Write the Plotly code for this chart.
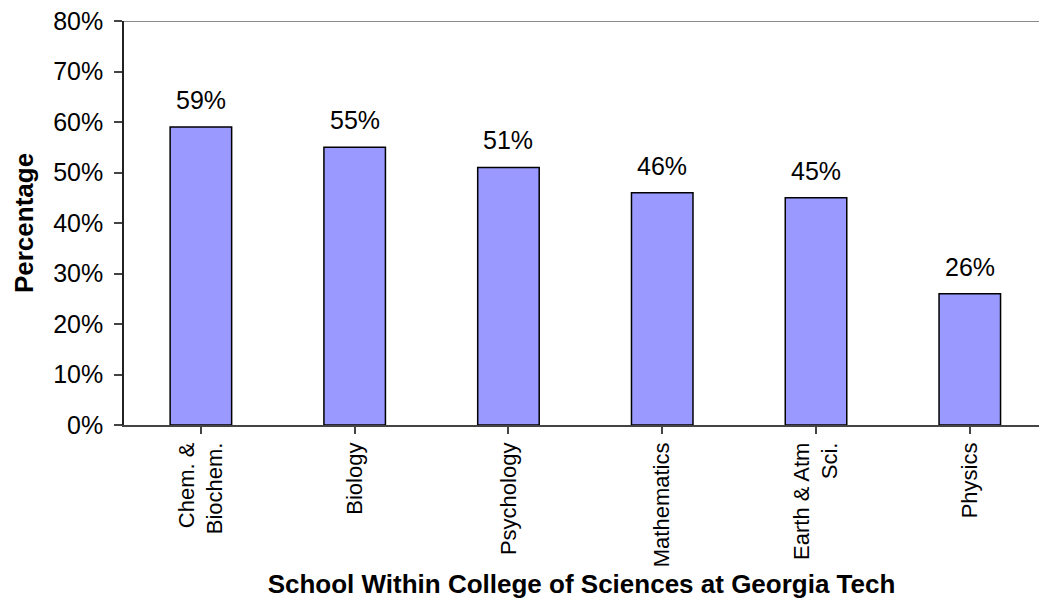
import plotly.graph_objects as go

# Share of students per school within the College of Sciences
schools = ["Chem. &<br>Biochem.", "Biology", "Psychology", "Mathematics", "Earth & Atm<br>Sci.", "Physics"]
percent = [59, 55, 51, 46, 45, 26]
y_ticks = [0, 10, 20, 30, 40, 50, 60, 70, 80]
y_tick_labels = [f"{v}%" for v in y_ticks]

FONT = "Liberation Sans, Arial, sans-serif"

fig = go.Figure()
fig.add_trace(go.Bar(
    x=list(range(len(schools))),
    y=percent,
    width=0.4,
    marker=dict(color="#9999FF", line=dict(color="#000000", width=1.5)),
    showlegend=False,
    hoverinfo="skip",
))

# value labels above each bar
for i, v in enumerate(percent):
    fig.add_annotation(
        x=i, y=v, text=f"{v}%", showarrow=False,
        yanchor="bottom", yshift=11,
        font=dict(family=FONT, size=25, color="#000000"),
    )

# thin grey border along the top of the plot area
fig.add_shape(type="line", xref="paper", yref="y", x0=0, x1=1, y0=80, y1=80,
              line=dict(color="#8c8c8c", width=2))

fig.update_layout(
    width=1039, height=602,
    margin=dict(l=124, r=0, t=21, b=177),
    paper_bgcolor="white", plot_bgcolor="white",
    font=dict(family=FONT, color="#000000"),
    bargap=0.6,
)

fig.update_xaxes(
    range=[-0.5, 5.45],
    tickmode="array",
    tickvals=list(range(len(schools))),
    ticktext=schools,
    tickangle=-90,
    tickfont=dict(family=FONT, size=22, color="#000000"),
    ticks="outside", ticklen=7, tickwidth=1.5, tickcolor="#444444",
    tickson="boundaries",
    showline=True, linecolor="#444444", linewidth=1.5,
    showgrid=False, zeroline=False,
    title=dict(text="<b>School Within College of Sciences at Georgia Tech</b>",
               font=dict(family=FONT, size=26, color="#000000"), standoff=9),
)

fig.update_yaxes(
    range=[0, 80],
    tickmode="array",
    tickvals=y_ticks,
    ticktext=y_tick_labels,
    tickfont=dict(family=FONT, size=25, color="#000000"),
    ticks="outside", ticklen=8, tickwidth=1.5, tickcolor="#444444",
    ticklabelstandoff=6,
    showline=True, linecolor="#222222", linewidth=1.5,
    showgrid=False, zeroline=False,
    title=dict(text="<b>Percentage</b>",
               font=dict(family=FONT, size=26, color="#000000"), standoff=12),
)

fig.write_html("out.html")
